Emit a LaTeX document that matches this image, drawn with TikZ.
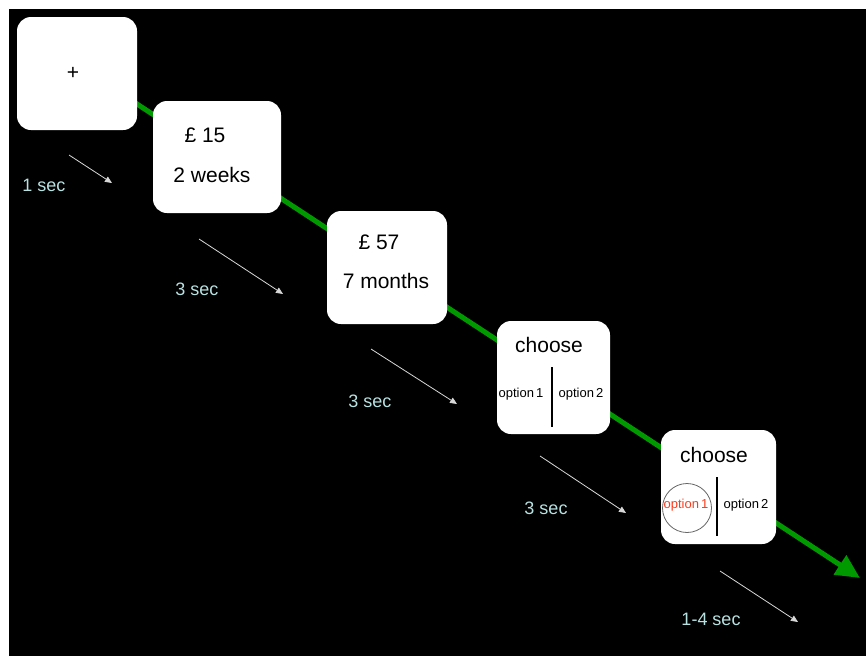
\documentclass[tikz,border=0pt]{standalone}
\usepackage{fontspec}
\setmainfont{Liberation Sans}
\usepackage{tikz}
\usetikzlibrary{arrows.meta}
\definecolor{trialGreen}{HTML}{009A00}
\definecolor{trialCyan}{HTML}{B8E2E2}
\definecolor{trialTick}{HTML}{D8D8D8}
\definecolor{trialRed}{HTML}{FF3A1A}
\tikzset{
  screen/.style={fill=white,rounded corners=14pt,inner sep=0pt},
  big/.style={font=\fontsize{21}{25}\selectfont,inner sep=0pt},
  small/.style={font=\fontsize{13}{15}\selectfont,inner sep=0pt},
  dur/.style={font=\fontsize{18}{21}\selectfont,text=trialCyan,inner sep=0pt},
  tick/.style={trialTick,line width=0.8pt,-{Triangle[length=7pt,width=6pt]}},
}

\begin{document}
\begin{tikzpicture}[x=1pt,y=-1pt]
\useasboundingbox (0,0) rectangle (866,656);
\fill[white] (0,0) rectangle (866,656);
\fill[black] (9,9) rectangle (866,656);
\coordinate (start) at (76,64);
\coordinate (tip) at (860,578);
\draw[trialGreen,line width=5pt,-{Triangle[length=24pt,width=22pt]}] (start) -- (tip);
\node[screen,minimum width=120pt,minimum height=113pt] (fix) at (77,73.5) {};
\node[screen,minimum width=128pt,minimum height=112pt] (optA) at (217,157) {};
\node[screen,minimum width=120pt,minimum height=113pt] (optB) at (387,267.5) {};
\node[screen,minimum width=113pt,minimum height=113pt] (pick) at (553.5,377.5) {};
\node[screen,minimum width=115pt,minimum height=114pt] (resp) at (718.5,487) {};
\node[big] (cross) at (73,73) {+};
\node[big] (amtA) at (205,135) {\pounds\ 15};
\node[big] (delA) at (212,175) {2 weeks};
\node[big] (amtB) at (379,242) {\pounds\ 57};
\node[big] (delB) at (386,281) {7 months};
\node[big] (chsA) at (549,345) {choose};
\node[small] (lefA) at (521,394) {option\,1};
\node[small] (rigA) at (581,394) {option\,2};
\coordinate (sepAt) at (552,367);
\coordinate (sepAb) at (552,427);
\draw[black,line width=1.2pt] (sepAt) -- (sepAb);
\node[big] (chsB) at (714,455) {choose};
\node[small,text=trialRed] (lefB) at (686,505) {option\,1};
\node[small] (rigB) at (746,505) {option\,2};
\node[draw=gray!80!black,circle,minimum size=49pt,inner sep=0pt,line width=0.8pt] (ring) at (687,508) {};
\coordinate (sepBt) at (717,477);
\coordinate (sepBb) at (717,536);
\draw[black,line width=1.2pt] (sepBt) -- (sepBb);
\node[dur] (t1) at (44,185) {1 sec};
\node[dur] (t2) at (197,289) {3 sec};
\node[dur] (t3) at (370,401) {3 sec};
\node[dur] (t4) at (546,508) {3 sec};
\node[dur] (t5) at (711,619) {1-4 sec};
\foreach \n/\a/\b/\c/\d in {1/69/155/112/183,2/199/239/283/294,3/371/349/457/404,4/540/456/626/513,5/720/571/798/622}{
  \coordinate (s\n) at (\a,\b);
  \coordinate (e\n) at (\c,\d);
  \draw[tick] (s\n) -- (e\n);
}
\end{tikzpicture}
\end{document}
